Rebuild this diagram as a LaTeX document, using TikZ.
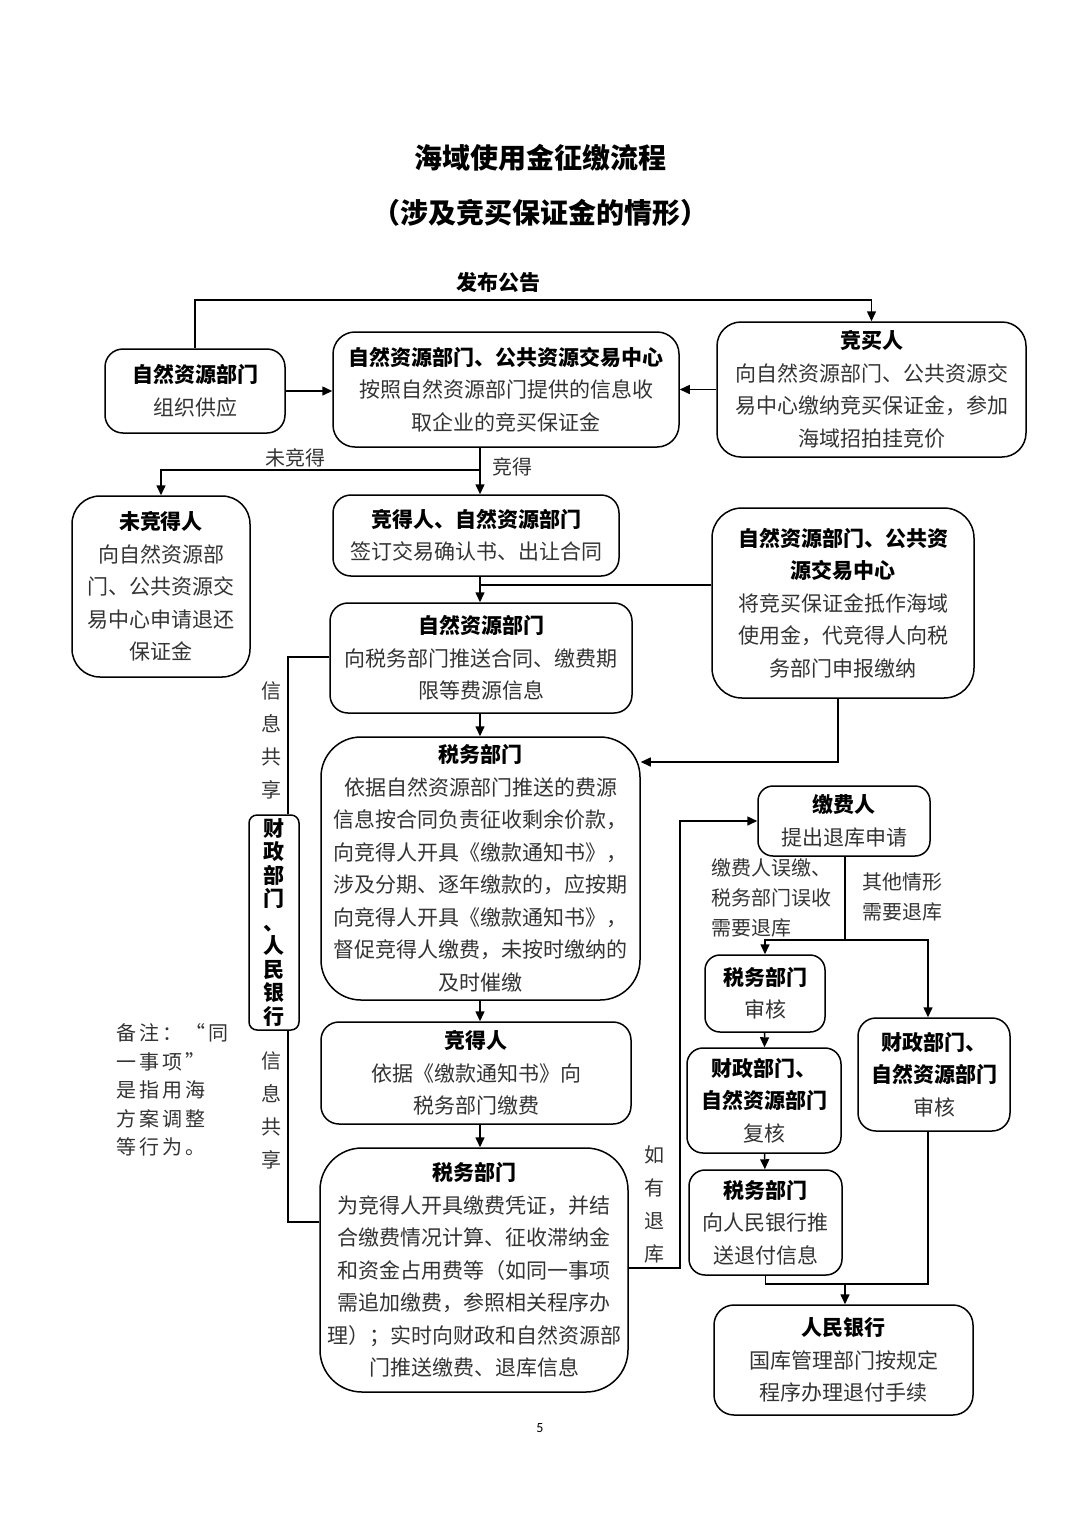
\documentclass[tikz,border=0pt]{standalone}
\usepackage{fontspec}
\newfontfamily\cjk{Noto Sans CJK SC}
\newfontfamily\cjkwide[LetterSpace=15]{Noto Sans CJK SC}
\newfontfamily\pgnum{Carlito}
\usetikzlibrary{arrows.meta}
\newcommand{\bhd}[1]{{\bfseries\color{black}#1}}

\begin{document}
\begin{tikzpicture}[x=1pt, y=-1pt, line width=1.5pt,
  box/.style={draw, rounded corners=18pt, align=center, inner sep=0pt,
    font=\cjk\fontsize{21}{32.5}\selectfont, text=black!80},
  txt/.style={inner sep=0pt, align=left, font=\cjk\fontsize{20}{30}\selectfont, text=black!80},
  vtxt/.style={inner sep=0pt, align=center, font=\cjk\fontsize{20}{33}\selectfont, text=black!80},
  arr/.style={-{Triangle[length=10pt,width=9pt]}}]
  \useasboundingbox (0,0) rectangle (1080,1527);

  % titles
  \node [font=\cjk\bfseries\fontsize{28}{34}\selectfont] (T1) at (540,158) {海域使用金征缴流程};
  \node [font=\cjk\bfseries\fontsize{28}{34}\selectfont] (T2) at (540,213) {（涉及竞买保证金的情形）};

  % boxes
  \node [box, minimum width=180, minimum height=84] (A) at (195,391) {\bhd{自然资源部门}\\组织供应};
  \node [box, minimum width=346, minimum height=115, rounded corners=22pt] (B) at (506,389.5)
    {\bhd{自然资源部门、公共资源交易中心}\\按照自然资源部门提供的信息收\\取企业的竞买保证金};
  \node [box, minimum width=309, minimum height=135, rounded corners=24pt] (C) at (871.5,389.5)
    {\bhd{竞买人}\\向自然资源部门、公共资源交\\易中心缴纳竞买保证金，参加\\海域招拍挂竞价};
  \node [box, minimum width=178, minimum height=181, rounded corners=28pt] (D) at (161,586.5)
    {\bhd{未竞得人}\\向自然资源部\\门、公共资源交\\易中心申请退还\\保证金};
  \node [box, minimum width=286, minimum height=81] (E) at (476,535.5)
    {\bhd{竞得人、自然资源部门}\\签订交易确认书、出让合同};
  \node [box, minimum width=262, minimum height=190, rounded corners=30pt] (F) at (843,603)
    {\bhd{自然资源部门、公共资}\\\bhd{源交易中心}\\将竞买保证金抵作海域\\使用金，代竞得人向税\\务部门申报缴纳};
  \node [box, minimum width=302, minimum height=110] (G) at (481,658)
    {\bhd{自然资源部门}\\向税务部门推送合同、缴费期\\限等费源信息};
  \node [box, minimum width=319, minimum height=263, rounded corners=40pt] (H) at (480.5,868.5)
    {\bhd{税务部门}\\依据自然资源部门推送的费源\\信息按合同负责征收剩余价款，\\向竞得人开具《缴款通知书》，\\涉及分期、逐年缴款的，应按期\\向竞得人开具《缴款通知书》，\\督促竞得人缴费，未按时缴纳的\\及时催缴};
  \node [box, minimum width=310, minimum height=102] (I) at (476,1073)
    {\bhd{竞得人}\\依据《缴款通知书》向\\税务部门缴费};
  \node [box, minimum width=308, minimum height=244, rounded corners=42pt] (J) at (474,1270)
    {\bhd{税务部门}\\为竞得人开具缴费凭证，并结\\合缴费情况计算、征收滞纳金\\和资金占用费等（如同一事项\\需追加缴费，参照相关程序办\\理）；实时向财政和自然资源部\\门推送缴费、退库信息};
  \node [box, minimum width=50, minimum height=215, rounded corners=8pt, text=black,
    font=\cjk\bfseries\fontsize{21}{23.5}\selectfont] (Fin) at (274,922.5)
    {财\\政\\部\\门\\、\\人\\民\\银\\行};
  \node [box, minimum width=172, minimum height=70, rounded corners=15pt] (K) at (844,821)
    {\bhd{缴费人}\\提出退库申请};
  \node [box, minimum width=120, minimum height=77, rounded corners=15pt] (L) at (765,993.5)
    {\bhd{税务部门}\\审核};
  \node [box, minimum width=154, minimum height=105, rounded corners=16pt] (M) at (764,1100.5)
    {\bhd{财政部门、}\\\bhd{自然资源部门}\\复核};
  \node [box, minimum width=152, minimum height=113, rounded corners=18pt] (N) at (934,1074.5)
    {\bhd{财政部门、}\\\bhd{自然资源部门}\\审核};
  \node [box, minimum width=153, minimum height=105, rounded corners=16pt] (P) at (765.5,1222.5)
    {\bhd{税务部门}\\向人民银行推\\送退付信息};
  \node [box, minimum width=259, minimum height=110, rounded corners=20pt] (Q) at (843.5,1360)
    {\bhd{人民银行}\\国库管理部门按规定\\程序办理退付手续};

  % labels
  \node [txt, font=\cjk\bfseries\fontsize{21}{30}\selectfont, text=black] (pub) at (498,282) {发布公告};
  \node [txt] (lose) at (295,458) {未竞得};
  \node [txt] (win) at (512,467) {竞得};
  \node [vtxt] (share1) at (271,740) {信\\息\\共\\享};
  \node [vtxt] (share2) at (271,1110) {信\\息\\共\\享};
  \node [vtxt] (back) at (654,1204) {如\\有\\退\\库};
  \node [txt, anchor=west] (why1) at (711,898) {缴费人误缴、\\税务部门误收\\需要退库};
  \node [txt, anchor=west] (why2) at (862,897) {其他情形\\需要退库};
  \node [txt, anchor=west, font=\cjkwide\fontsize{20}{28.5}\selectfont] (note) at (116,1090)
    {备注：“同\\一事项”\\是指用海\\方案调整\\等行为。};
  \node [font=\pgnum\fontsize{14}{16}\selectfont] (page) at (540,1428) {5};

  % connectors
  \coordinate (top) at (530,300);
  \draw [arr] (A.north) -- (A.north |- top) -| (C.north);
  \draw [arr] (A.east) -- (A.east -| B.west);
  \draw [arr] (C.west) -- (C.west -| B.east);
  \coordinate (s1) at (480,470);
  \draw (B.south -| s1) -- (s1);
  \draw [arr] (s1) -| (D.north);
  \draw [arr] (s1) -- (s1 |- E.north);
  \coordinate (s2) at (480,585);
  \draw (E.south -| s2) -- (s2) -- (s2 -| F.west);
  \draw [arr] (s2) -- (s2 |- G.north);
  \draw [arr] (G.south -| s2) -- (s2 |- H.north);
  \coordinate (fh) at (838,762);
  \draw [arr] (F.south -| fh) -- (fh) -- (fh -| H.east);
  \draw [arr] (H.south -| s2) -- (s2 |- I.north);
  \draw [arr] (I.south -| s2) -- (s2 |- J.north);
  \coordinate (i1) at (288,657);
  \draw (G.west |- i1) -- (i1) -- (i1 |- Fin.north);
  \coordinate (i2) at (288,1222);
  \draw (Fin.south -| i2) -- (i2) -- (i2 -| J.west);
  \coordinate (r1) at (680,1268);
  \draw [arr] (J.east |- r1) -- (r1) |- (K.west);
  \coordinate (k1) at (845,940);
  \coordinate (k2) at (928,940);
  \draw (K.south -| k1) -- (k1);
  \draw [arr] (k1) -| (L.north);
  \draw [arr] (k1) -- (k2) -- (k2 |- N.north);
  \draw [arr] (L) -- (M);
  \draw [arr] (M) -- (P);
  \coordinate (q1) at (845,1284);
  \draw (P.south) |- (q1);
  \draw (N.south -| k2) |- (q1);
  \draw [arr] (q1) -- (q1 |- Q.north);
\end{tikzpicture}
\end{document}
